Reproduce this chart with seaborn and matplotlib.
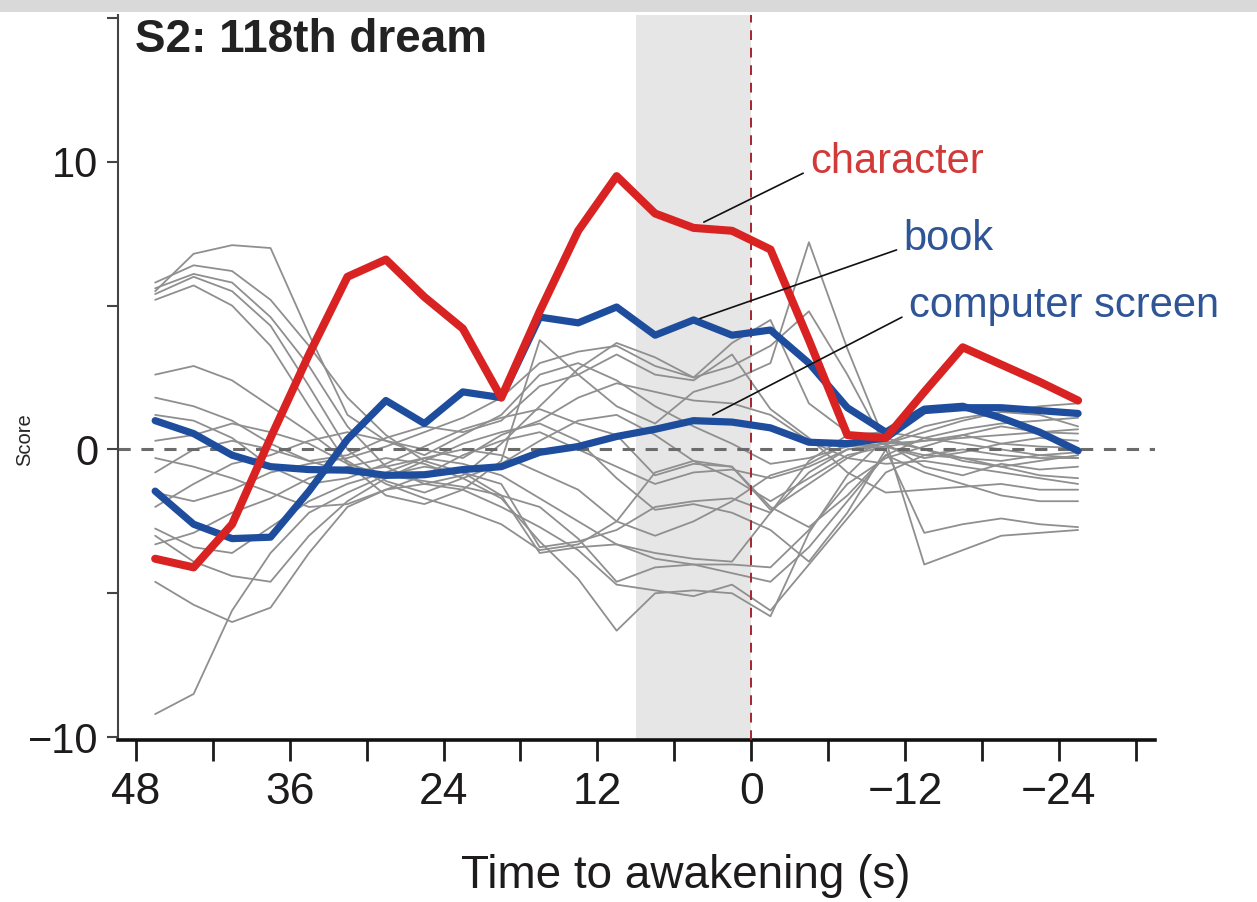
import numpy as np
import pandas as pd
import seaborn as sns
import matplotlib
matplotlib.use('Agg')
import matplotlib.pyplot as plt
from matplotlib.patches import Rectangle

# time bins (s before awakening), one point every 3 s
time_s = [46.5, 43.5, 40.5, 37.5, 34.5, 31.5, 28.5, 25.5, 22.5, 19.5, 16.5, 13.5,
          10.5, 7.5, 4.5, 1.5, -1.5, -4.5, -7.5, -10.5, -13.5, -16.5, -19.5, -22.5, -25.5]

character = [-3.8, -4.1, -2.6, 0.4, 3.3, 6.0, 6.6, 5.3, 4.2, 1.8, 4.8, 7.6,
             9.5, 8.2, 7.7, 7.6, 6.95, 3.8, 0.5, 0.4, 2.0, 3.55, 2.95, 2.35, 1.7]
book = [-1.45, -2.6, -3.1, -3.05, -1.45, 0.35, 1.7, 0.9, 2.0, 1.8, 4.6, 4.4,
        4.95, 3.97, 4.5, 3.97, 4.15, 3.0, 1.45, 0.6, 1.4, 1.5, 1.1, 0.6, -0.05]
computer_screen = [1.0, 0.55, -0.2, -0.6, -0.7, -0.72, -0.9, -0.88, -0.7, -0.6, -0.1, 0.1,
                   0.45, 0.7, 1.0, 0.95, 0.75, 0.25, 0.2, 0.4, 1.35, 1.45, 1.45, 1.35, 1.25]

# remaining decoded words (grey traces)
other_words = [
    [5.5, 6.8, 7.1, 7.0, 4.0, 1.2, 0.3, -0.2, 0.5, 1.2, 2.6, 3.0, 2.4, 1.5, 0.8, 0.2, -0.5, -0.3, 0.1, 0.2, 0.8, 1.1, 1.3, 1.5, 1.6],
    [5.8, 6.4, 6.2, 5.2, 3.6, 1.8, 0.5, -0.4, -0.8, -1.2, -3.4, -3.2, -2.8, -2.0, -1.8, -1.7, -2.2, -0.8, 0.0, 0.2, 0.3, 0.4, 0.5, 0.6, 0.55],
    [5.6, 6.1, 5.8, 4.6, 2.9, 0.8, -0.6, -1.2, -0.9, 0.2, 1.5, 2.8, 3.7, 3.2, 2.5, 2.9, 3.6, 4.8, 2.6, 0.1, -0.3, -0.1, 0.2, 0.4, 0.3],
    [5.4, 6.0, 5.5, 4.3, 2.2, 0.0, -1.1, -1.5, -1.0, -0.5, 0.3, 1.0, 1.2, 0.5, -0.4, -1.0, -1.8, -1.0, -0.2, 0.1, -0.2, -0.3, -0.4, -0.2, -0.1],
    [5.2, 5.7, 5.0, 3.6, 1.5, -0.5, -1.6, -1.9, -1.4, -0.4, 3.8, 2.6, 1.5, 0.9, 2.0, 2.4, 3.0, 7.2, 3.5, 0.2, -0.6, -0.9, -0.5, -0.7, -0.6],
    [2.6, 2.9, 2.4, 1.5, 0.6, -0.4, -1.2, -1.7, -2.1, -2.6, -3.5, -3.3, -2.5, -0.8, -0.4, -0.6, -2.0, -2.7, -1.6, -0.2, 0.4, 0.7, 0.9, 1.0, 1.1],
    [-0.8, 0.0, 0.3, 0.0, -0.4, -0.2, 0.4, 0.8, 0.6, 1.0, 2.2, 2.6, 3.3, 2.6, 2.4, 3.3, 1.4, 0.4, -0.8, -1.5, -1.4, -1.3, -1.2, -1.4, -1.4],
    [-2.0, -1.2, -0.5, -0.2, 0.3, 0.6, 0.3, 0.0, -0.3, 0.5, 1.0, 1.8, 2.3, 2.0, 1.7, 1.6, 1.2, 0.3, -0.3, -0.5, -0.4, -0.6, -0.8, -1.0, -1.2],
    [-2.75, -3.4, -3.6, -2.7, -1.8, -1.2, -0.8, -0.3, -0.5, -0.9, -1.7, -2.5, -3.3, -3.8, -4.0, -4.0, -4.1, -2.8, -1.2, -0.3, 0.1, 0.5, 0.8, 0.6, 0.7],
    [-4.6, -5.4, -6.0, -5.5, -3.6, -2.0, -1.4, -1.2, -1.4, -2.0, -2.7, -3.5, -4.7, -4.9, -5.1, -4.7, -5.6, -4.0, -2.4, -0.8, -0.2, 0.0, -0.2, -0.3, -0.3],
    [-9.2, -8.5, -5.6, -3.6, -2.2, -1.5, -0.9, -0.6, -0.8, -1.6, -2.0, -3.1, -4.6, -4.1, -4.0, -4.3, -4.6, -3.4, -1.8, -0.2, -0.8, -1.2, -1.6, -1.8, -1.8],
    [-3.0, -3.9, -4.4, -4.6, -3.0, -1.8, -1.0, -0.4, 0.2, 0.6, 0.9, 0.3, -1.0, -2.1, -1.9, -2.2, -2.8, -3.9, -2.2, 0.0, -2.9, -2.6, -2.4, -2.6, -2.7],
    [1.2, 1.0, 0.4, -0.6, -1.2, -1.0, -0.5, 0.1, 0.7, 1.1, 1.4, 0.9, 0.5, -0.9, -0.5, -0.6, -2.1, -1.2, -0.3, 0.3, -4.0, -3.5, -3.0, -2.9, -2.8],
    [0.3, 0.5, 0.9, 0.6, 0.2, -0.5, -0.9, -1.1, -1.3, -1.6, -3.6, -3.4, -3.3, -3.6, -3.8, -3.9, -2.2, -0.4, 0.5, 0.6, 0.4, 0.2, 0.0, -0.2, -0.3],
    [-1.5, -1.8, -1.4, -0.8, -0.5, -0.3, 0.1, 0.6, 1.1, 1.8, 3.0, 3.4, 3.6, 2.9, 2.5, 3.7, 4.5, 1.6, 0.6, 0.2, 0.6, 1.0, 1.3, 1.2, 0.8],
    [-3.3, -2.9, -2.2, -1.7, -1.0, -0.6, -0.3, -0.5, -1.0, -1.7, -3.2, -4.5, -6.3, -5.0, -4.9, -5.0, -5.8, -2.9, -0.9, 0.4, 0.0, -0.4, -0.6, -0.9, -1.0],
    [1.8, 1.5, 1.0, 0.2, -0.4, -0.8, -0.6, -0.3, 0.0, -0.2, -0.8, -1.4, -2.5, -3.0, -2.5, -1.8, -0.9, -0.5, 0.2, 0.3, 0.0, -0.3, -0.6, -0.4, -0.2],
    [-0.3, -0.6, -1.0, -1.5, -2.0, -1.9, -1.4, -0.9, -0.2, 0.3, 0.6, 0.0, -0.6, -1.2, -0.8, -0.7, -1.0, -0.6, 0.0, 0.1, 0.3, 0.5, 0.2, 0.1, 0.05],
]

xtick_pos = [48, 42, 36, 30, 24, 18, 12, 6, 0, -6, -12, -18, -24, -30]
xtick_labels = ['48', '', '36', '', '24', '', '12', '', '0', '', '\u221212', '', '\u221224', '']
ytick_pos = [-10, -5, 0, 5, 10, 15]
ytick_labels = ['\u221210', '', '0', '', '10', '']

RED = '#d92323'
BLUE = '#1f4d9e'
INK = '#1e1b1c'

sns.set_style('ticks')
plt.rcParams['font.family'] = ['Liberation Sans', 'DejaVu Sans']

W, H = 1257, 902
fig = plt.figure(figsize=(W / 100, H / 100), dpi=100)
ax = fig.add_axes([118 / W, (H - 740) / H, (1155 - 118) / W, (740 - 15) / H])

# grey strip at the very top of the screenshot
fig.patches.append(Rectangle((0, 1 - 12 / H), 1, 12 / H, transform=fig.transFigure,
                             facecolor='#d9d9d9', edgecolor='none', zorder=0))

ax.axvspan(9, 0, color='#e6e6e6', lw=0, zorder=0)

gray_df = pd.DataFrame(
    [(i, t, v) for i, row in enumerate(other_words) for t, v in zip(time_s, row)],
    columns=['word', 'time', 'score'])
sns.lineplot(data=gray_df, x='time', y='score', units='word', estimator=None,
             color='#8f8f8f', lw=1.3, ax=ax, legend=False, sort=False, zorder=2)

ax.axhline(0, color='#6b6b6b', lw=2.2, ls=(0, (4, 3.5)), zorder=2.5)
ax.axvline(0, color='#a3262e', lw=1.4, ls=(0, (5, 4)), zorder=2.6)

main_df = pd.DataFrame({'time': time_s, 'character': character, 'book': book,
                        'computer screen': computer_screen})
sns.lineplot(data=main_df, x='time', y='computer screen', color=BLUE, lw=5.2, ax=ax, zorder=3)
sns.lineplot(data=main_df, x='time', y='book', color=BLUE, lw=5.2, ax=ax, zorder=3.1)
sns.lineplot(data=main_df, x='time', y='character', color=RED, lw=5.8, ax=ax, zorder=3.2)

# word labels with leader lines
arrow = dict(arrowstyle='-', color='#111111', lw=1.2, shrinkA=3, shrinkB=0, relpos=(0, 0.3))
ax.annotate('character', xy=(3.7, 7.9), xytext=(-4.6, 10.0), color='#d23a3a',
            fontsize=30, va='center', ha='left', arrowprops=arrow, zorder=5)
ax.annotate('book', xy=(4.0, 4.55), xytext=(-11.9, 7.3), color='#2f5597',
            fontsize=30, va='center', ha='left', arrowprops=arrow, zorder=5)
ax.annotate('computer screen', xy=(3.0, 1.2), xytext=(-12.3, 5.0), color='#2f5597',
            fontsize=30, va='center', ha='left', arrowprops=arrow, zorder=5)

ax.set_xlim(49.4, -31.5)
ax.set_ylim(-10.1, 15.1)
ax.set_xticks(xtick_pos)
ax.set_xticklabels(xtick_labels)
ax.set_yticks(ytick_pos)
ax.set_yticklabels(ytick_labels)
ax.tick_params(axis='x', direction='out', length=15, width=2, labelsize=32, pad=8,
               color=INK, labelcolor=INK)
ax.tick_params(axis='y', direction='out', length=8, width=1.5, labelsize=30, pad=6,
               color='#444444', labelcolor=INK)
ax.set_xlabel('')
ax.set_ylabel('')

sns.despine(ax=ax)
ax.spines['left'].set_linewidth(1.5)
ax.spines['left'].set_color('#444444')
ax.spines['bottom'].set_linewidth(2.6)
ax.spines['bottom'].set_color('#111111')

ax.text(0.016, 0.966, 'S2: 118th dream', transform=ax.transAxes, fontsize=33,
        fontweight='bold', color='#222222', va='center', ha='left')
fig.text(25 / W, 1 - 440 / H, 'Score', rotation=90, fontsize=14.5, va='center', ha='center')
fig.text(686 / W, 1 - 876 / H, 'Time to awakening (s)', fontsize=33, va='center',
         ha='center', color=INK)

fig.savefig('out.png', dpi=100, facecolor='white')
